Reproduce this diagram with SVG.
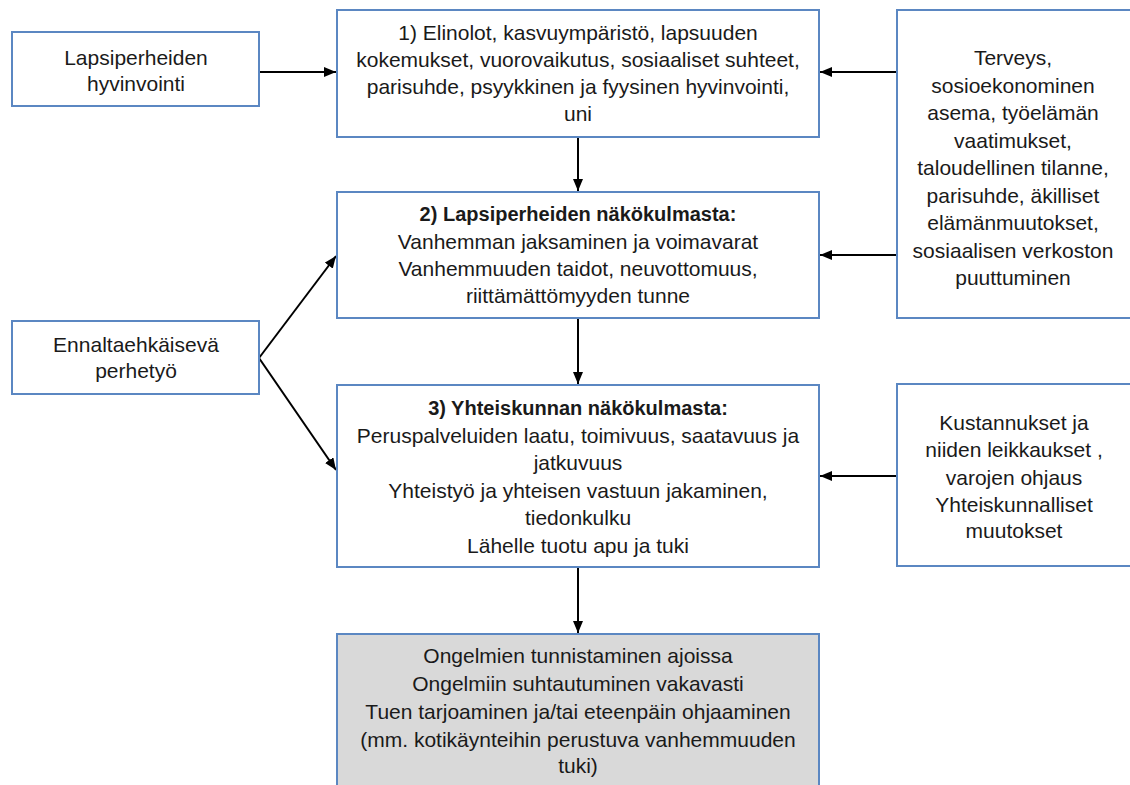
<svg xmlns="http://www.w3.org/2000/svg" width="1130" height="785" viewBox="0 0 1130 785">
<style>
.box{fill:#ffffff;stroke:#5b87c2;stroke-width:2}
.grey{fill:#d9d9d9}
.t{font-family:"Liberation Sans",Arial,sans-serif;font-size:21px;fill:#1a1a1a;text-anchor:middle}
.b{font-weight:bold;font-size:20px}
.c{stroke:#000;stroke-width:2;fill:none;marker-end:url(#ah)}
</style>
<defs>
<marker id="ah" viewBox="0 0 12 10" refX="12" refY="5" markerWidth="12" markerHeight="10" markerUnits="userSpaceOnUse" orient="auto">
<path d="M0,0 L12,5 L0,10 z" fill="#000"/>
</marker>
</defs>
<rect width="1130" height="785" fill="#ffffff"/>
<g id="connectors">
<line class="c" x1="259" y1="72" x2="336" y2="72"/>
<line class="c" x1="897" y1="72" x2="820" y2="72"/>
<line class="c" x1="897" y1="255" x2="820" y2="255"/>
<line class="c" x1="897" y1="476" x2="820" y2="476"/>
<line class="c" x1="578" y1="137" x2="578" y2="191"/>
<line class="c" x1="578" y1="318" x2="578" y2="384"/>
<line class="c" x1="578" y1="567" x2="578" y2="633"/>
<line class="c" x1="259" y1="358" x2="336" y2="256"/>
<line class="c" x1="259" y1="358" x2="336" y2="470"/>
</g>
<g id="node-hyvinvointi">
<rect class="box" x="12" y="32" width="247" height="74"/>
<text class="t" x="136" y="65">Lapsiperheiden</text>
<text class="t" x="136" y="91">hyvinvointi</text>
</g>
<g id="node-ennalta">
<rect class="box" x="12" y="321" width="247" height="73"/>
<text class="t" x="136" y="352">Ennaltaehkäisevä</text>
<text class="t" x="136" y="378">perhetyö</text>
</g>
<g id="node-1">
<rect class="box" x="337" y="10" width="482" height="127"/>
<text class="t" x="578" y="40">1) Elinolot, kasvuympäristö, lapsuuden</text>
<text class="t" x="578" y="67">kokemukset, vuorovaikutus, sosiaaliset suhteet,</text>
<text class="t" x="578" y="94">parisuhde, psyykkinen ja fyysinen hyvinvointi,</text>
<text class="t" x="578" y="121">uni</text>
</g>
<g id="node-2">
<rect class="box" x="337" y="192" width="482" height="126"/>
<text class="t b" x="578" y="221">2) Lapsiperheiden näkökulmasta:</text>
<text class="t" x="578" y="249">Vanhemman jaksaminen ja voimavarat</text>
<text class="t" x="578" y="276">Vanhemmuuden taidot, neuvottomuus,</text>
<text class="t" x="578" y="303">riittämättömyyden tunne</text>
</g>
<g id="node-3">
<rect class="box" x="337" y="385" width="482" height="182"/>
<text class="t b" x="578" y="415">3) Yhteiskunnan näkökulmasta:</text>
<text class="t" x="578" y="443">Peruspalveluiden laatu, toimivuus, saatavuus ja</text>
<text class="t" x="578" y="470">jatkuvuus</text>
<text class="t" x="578" y="498">Yhteistyö ja yhteisen vastuun jakaminen,</text>
<text class="t" x="578" y="525">tiedonkulku</text>
<text class="t" x="578" y="553">Lähelle tuotu apu ja tuki</text>
</g>
<g id="node-terveys">
<rect class="box" x="897" y="10" width="245" height="308"/>
<text class="t" x="1013" y="65">Terveys,</text>
<text class="t" x="1013" y="92.5">sosioekonominen</text>
<text class="t" x="1013" y="120">asema, työelämän</text>
<text class="t" x="1013" y="147.5">vaatimukset,</text>
<text class="t" x="1013" y="175">taloudellinen tilanne,</text>
<text class="t" x="1013" y="202.5">parisuhde, äkilliset</text>
<text class="t" x="1013" y="230">elämänmuutokset,</text>
<text class="t" x="1013" y="257.5">sosiaalisen verkoston</text>
<text class="t" x="1013" y="285">puuttuminen</text>
</g>
<g id="node-kustannukset">
<rect class="box" x="897" y="384" width="245" height="182"/>
<text class="t" x="1014" y="430">Kustannukset ja</text>
<text class="t" x="1014" y="457">niiden leikkaukset ,</text>
<text class="t" x="1014" y="485">varojen ohjaus</text>
<text class="t" x="1014" y="512">Yhteiskunnalliset</text>
<text class="t" x="1014" y="538">muutokset</text>
</g>
<g id="node-tulos">
<rect class="box grey" x="337" y="634" width="482" height="170"/>
<text class="t" x="578" y="663">Ongelmien tunnistaminen ajoissa</text>
<text class="t" x="578" y="691">Ongelmiin suhtautuminen vakavasti</text>
<text class="t" x="578" y="719">Tuen tarjoaminen ja/tai eteenpäin ohjaaminen</text>
<text class="t" x="578" y="747">(mm. kotikäynteihin perustuva vanhemmuuden</text>
<text class="t" x="578" y="773">tuki)</text>
</g>
</svg>
